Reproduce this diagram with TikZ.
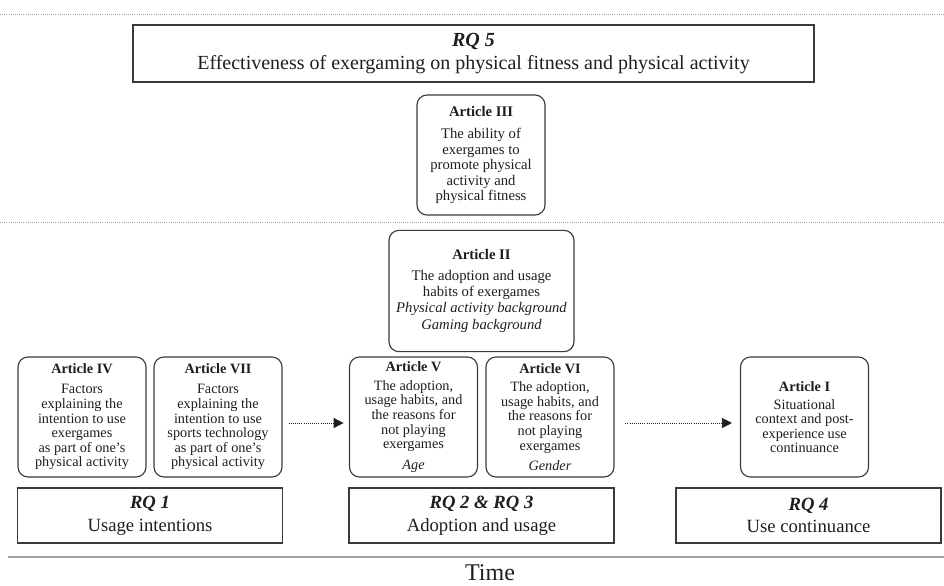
\documentclass[tikz,border=0pt]{standalone}
\usepackage{fontspec}
\setmainfont{Liberation Serif}
\usetikzlibrary{arrows.meta}

\definecolor{boxline}{HTML}{3A3A3A}
\definecolor{ruleline}{HTML}{A0A0A0}
\definecolor{ink}{HTML}{1E1E1E}

\tikzset{
  article/.style={draw=boxline, line width=0.85pt, rounded corners=7.5pt,
    align=center, inner sep=0pt, text=ink,
    font=\fontsize{10.7}{10.95}\selectfont},
  smallart/.style={article, minimum width=96pt, minimum height=90pt},
  rqbox/.style={draw=boxline, line width=0.8pt, align=center, inner sep=0pt,
    text=ink},
  flow/.style={ink, line width=0.6pt, densely dotted,
    -{Triangle[length=7.5pt,width=7.5pt]}},
  separator/.style={ruleline, line width=0.6pt, densely dotted},
}
\newcommand{\arttitle}[2][4pt]{\textbf{#2}\\[#1]}

\begin{document}
\begin{tikzpicture}[x=0.75pt,y=-0.75pt]
  \useasboundingbox (0,0) rectangle (944,585);

  % section separators
  \coordinate (sepAl) at (0,14);   \coordinate (sepAr) at (944,14);
  \coordinate (sepBl) at (0,222);  \coordinate (sepBr) at (944,222);
  \draw[separator] (sepAl) -- (sepAr);
  \draw[separator] (sepBl) -- (sepBr);

  % research question on effectiveness
  \node[rqbox, font=\fontsize{15}{17}\selectfont,
        minimum width=510.75pt, minimum height=42.75pt] (rq5) at (473.5,53.5)
    {\textit{\textbf{RQ 5}}\\Effectiveness of exergaming on physical fitness and physical activity};

  \node[article, font=\fontsize{11}{11.6}\selectfont,
        minimum width=96pt, minimum height=90pt] (a3) at (481,155)
    {\arttitle[5pt]{Article III}The ability of\\exergames to\\promote physical\\activity and\\physical fitness};

  \node[article, font=\fontsize{11}{12.3}\selectfont,
        minimum width=138.75pt, minimum height=91pt] (a2) at (481.5,291)
    {\arttitle[3pt]{Article II}The adoption and usage\\habits of exergames\\
     \textit{Physical activity background}\\\textit{Gaming background}};

  % articles along the time line
  \node[smallart] (a4) at (82,417)
    {\arttitle{Article IV}Factors\\explaining the\\intention to use\\exergames\\as part of one's\\physical activity};
  \node[smallart] (a7) at (218,417)
    {\arttitle{Article VII}Factors\\explaining the\\intention to use\\sports technology\\as part of one's\\physical activity};
  \node[smallart] (a5) at (413.5,417)
    {\arttitle[3pt]{Article V}The adoption,\\usage habits, and\\the reasons for\\not playing\\exergames\\[4.5pt]\textit{Age}};
  \node[smallart] (a6) at (550,417)
    {\arttitle[3pt]{Article VI}The adoption,\\usage habits, and\\the reasons for\\not playing\\exergames\\[4.5pt]\textit{Gender}};
  \node[smallart, font=\fontsize{10.7}{10.6}\selectfont] (a1) at (804.5,417)
    {\arttitle[3pt]{Article I}Situational\\context and post-\\experience use\\continuance};

  \draw[flow, shorten <=4.5pt, shorten >=4pt]
    ([yshift=-4.5pt]a7.east) -- ([yshift=-4.5pt]a5.west);
  \draw[flow, shorten <=8pt, shorten >=6pt]
    ([yshift=-4.5pt]a6.east) -- ([yshift=-4.5pt]a1.west);

  % research questions per phase
  \node[rqbox, font=\fontsize{14}{17}\selectfont,
        minimum width=198.75pt, minimum height=41.25pt] (rq1) at (150,515.5)
    {\textit{\textbf{RQ 1}}\\Usage intentions};
  \node[rqbox, font=\fontsize{14}{17}\selectfont,
        minimum width=198.75pt, minimum height=41.25pt] (rq23) at (481.5,515.5)
    {\textit{\textbf{RQ 2 \& RQ 3}}\\Adoption and usage};
  \node[rqbox, font=\fontsize{14}{17}\selectfont,
        minimum width=198.75pt, minimum height=41.25pt] (rq4) at (808.5,515.5)
    {\textit{\textbf{RQ 4}}\\Use continuance};

  % time axis
  \coordinate (tl) at (8,557);
  \coordinate (tr) at (944,557);
  \draw[ruleline, line width=1.1pt] (tl) -- (tr);
  \node[text=ink, inner sep=0pt, font=\fontsize{18}{20}\selectfont] (time) at (490,573) {Time};
\end{tikzpicture}
\end{document}
